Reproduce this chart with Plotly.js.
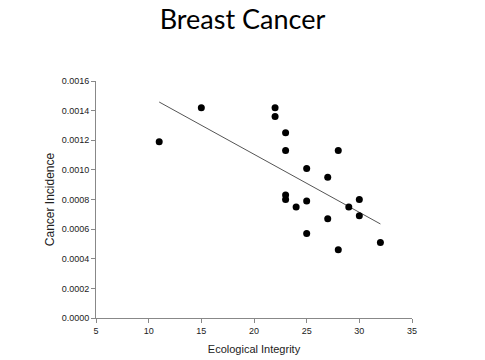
<!DOCTYPE html>
<html><head><meta charset="utf-8">
<script src="https://cdn.plot.ly/plotly-3.0.1.min.js"></script>
<style>html,body{margin:0;padding:0;background:#fff}</style>
</head><body><div id="chart" style="width:485px;height:360px"></div>
<script>
const integrity = [11, 15, 22, 22, 23, 23, 23, 23, 24, 25, 25, 25, 27, 27, 28, 28, 29, 30, 30, 32];
const incidence = [0.00119, 0.00142, 0.00142, 0.00136, 0.00125, 0.00113, 0.00083, 0.00080, 0.00075, 0.00101, 0.00079, 0.00057, 0.00095, 0.00067, 0.00113, 0.00046, 0.00075, 0.00080, 0.00069, 0.00051];
const trendX = [11, 32];
const trendY = [0.001458, 0.000635];
const xTicks = [5, 10, 15, 20, 25, 30, 35];
const yTicks = [0, 0.0002, 0.0004, 0.0006, 0.0008, 0.0010, 0.0012, 0.0014, 0.0016];

const axisCommon = {
  showline: true, linecolor: '#888', linewidth: 1,
  ticks: 'outside', ticklen: 4, tickcolor: '#888',
  showgrid: false, zeroline: false,
  tickfont: {family: 'Liberation Sans, Arial, sans-serif', size: 9, color: '#222'}
};

Plotly.newPlot('chart', [
  {x: trendX, y: trendY, mode: 'lines', type: 'scatter',
   line: {color: '#555', width: 1}, hoverinfo: 'skip'},
  {x: integrity, y: incidence, mode: 'markers', type: 'scatter',
   marker: {color: '#000', size: 7}}
], {
  width: 485, height: 360,
  margin: {l: 96, r: 73, t: 81, b: 42},
  showlegend: false,
  paper_bgcolor: '#fff', plot_bgcolor: '#fff',
  title: {text: 'Breast Cancer', x: 0.5, xanchor: 'center', y: 0.945, yanchor: 'middle',
          font: {family: 'Lato, Carlito, sans-serif', size: 27, color: '#000'}},
  xaxis: Object.assign({}, axisCommon, {
    range: [5, 35], tickvals: xTicks, automargin: false,
    title: {text: 'Ecological Integrity', standoff: 10,
            font: {family: 'Liberation Sans, Arial, sans-serif', size: 11, color: '#222'}}
  }),
  yaxis: Object.assign({}, axisCommon, {
    range: [0, 0.0016], tickvals: yTicks, tickformat: '.4f', automargin: false,
    title: {text: 'Cancer Incidence', standoff: 4,
            font: {family: 'Liberation Sans, Arial, sans-serif', size: 12, color: '#222'}}
  })
}, {displayModeBar: false, staticPlot: true});
</script></body></html>
